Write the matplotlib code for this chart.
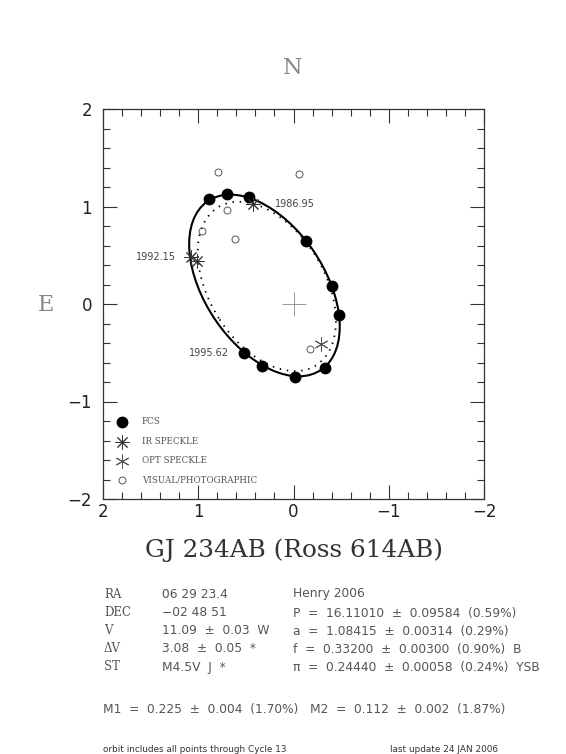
import numpy as np
import matplotlib
matplotlib.use("Agg")
import matplotlib.pyplot as plt
from matplotlib.patches import Ellipse
from matplotlib.ticker import MultipleLocator, FixedLocator

# ---------------- data ----------------
fcs_x = [0.884, 0.700, 0.464, -0.131, -0.401, -0.481, -0.331, -0.012, 0.331, 0.516]
fcs_y = [1.077, 1.131, 1.100, 0.649, 0.185, -0.110, -0.653, -0.745, -0.633, -0.506]
ir_x = [1.076, 1.016, 0.428]
ir_y = [0.485, 0.437, 1.026]
opt_x = [-0.285]
opt_y = [-0.410]
vis_x = [0.796, -0.055, 0.698, 0.611, 0.961, -0.173]
vis_y = [1.357, 1.336, 0.961, 0.663, 0.752, -0.465]

# orbit ellipses: centre x, centre y, semi-major, semi-minor, position angle (deg)
orbit_solid = [0.305, 0.190, 1.050, 0.625, 55.0]
orbit_dotted = [0.280, 0.180, 0.960, 0.600, 57.0]

epoch_labels = ["1986.95", "1992.15", "1995.62"]

tick_vals = [2, 1, 0, -1, -2]
tick_labels = ["2", "1", "0", "\u22121", "\u22122"]

legend_labels = ["FCS", "IR SPECKLE", "OPT SPECKLE", "VISUAL/PHOTOGRAPHIC"]

title = "GJ 234AB (Ross 614AB)"
info_col1 = ["RA", "DEC", "V", "\u0394V", "ST"]
info_col2 = ["06 29 23.4", "\u221202 48 51", "11.09  \u00b1  0.03  W", "3.08  \u00b1  0.05  *", "M4.5V  J  *"]
info_col3 = ["Henry 2006",
             "P  =  16.11010  \u00b1  0.09584  (0.59%)",
             "a  =  1.08415  \u00b1  0.00314  (0.29%)",
             "f  =  0.33200  \u00b1  0.00300  (0.90%)  B",
             "\u03c0  =  0.24440  \u00b1  0.00058  (0.24%)  YSB"]
mass_line = "M1  =  0.225  \u00b1  0.004  (1.70%)   M2  =  0.112  \u00b1  0.002  (1.87%)"
foot_left = "orbit includes all points through Cycle 13"
foot_right = "last update 24 JAN 2006"

# ---------------- figure ----------------
W, H = 566, 754
fig = plt.figure(figsize=(W / 100, H / 100), dpi=100)
def fx(px):
    return px / W
def fy(py):
    return 1 - py / H

ax = fig.add_axes([fx(103), fy(499), 381 / W, 390 / H])
ax.set_xlim(2, -2)
ax.set_ylim(-2, 2)

cx, cy, sa, sb, pa = orbit_solid
ax.add_patch(Ellipse((cx, cy), 2 * sa, 2 * sb, angle=pa, fill=False,
                     edgecolor="black", lw=1.5))
cx, cy, sa, sb, pa = orbit_dotted
ax.add_patch(Ellipse((cx, cy), 2 * sa, 2 * sb, angle=pa, fill=False,
                     edgecolor="black", lw=1.3, linestyle=(0, (0.8, 3.2))))

ax.plot(fcs_x, fcs_y, "o", ms=7.5, color="black", zorder=5)
ax.plot(ir_x, ir_y, ls="none", marker=(8, 2, 0), ms=10, mew=0.7, color="#333333", zorder=5)
ax.plot(opt_x, opt_y, ls="none", marker=(6, 2, 0), ms=10, mew=0.7, color="#555555", zorder=5)
ax.plot(vis_x, vis_y, "o", ms=5, mfc="none", mec="#555555", mew=0.7, zorder=5)
ax.plot([0], [0], "+", ms=17, mew=0.6, color="#888888")

ax.annotate(epoch_labels[0], (ir_x[2], ir_y[2]), xytext=(16, 0), textcoords="offset points",
            fontsize=7, color="#444444", ha="left", va="center")
ax.annotate(epoch_labels[1], (ir_x[0], ir_y[0]), xytext=(-11, 0), textcoords="offset points",
            fontsize=7, color="#444444", ha="right", va="center")
ax.annotate(epoch_labels[2], (fcs_x[9], fcs_y[9]), xytext=(-11, 0), textcoords="offset points",
            fontsize=7, color="#444444", ha="right", va="center")

# legend (manual)
leg_y = [0.198, 0.147, 0.0975, 0.049]
ax.plot(0.05, leg_y[0], "o", ms=7.5, color="black", transform=ax.transAxes)
ax.plot(0.05, leg_y[1], ls="none", marker=(8, 2, 0), ms=10, mew=0.7, color="#333333", transform=ax.transAxes)
ax.plot(0.05, leg_y[2], ls="none", marker=(6, 2, 0), ms=10, mew=0.7, color="#555555", transform=ax.transAxes)
ax.plot(0.05, leg_y[3], "o", ms=5, mfc="none", mec="#555555", mew=0.7, transform=ax.transAxes)
for lbl, yy in zip(legend_labels, leg_y):
    ax.text(0.1015, yy, lbl, transform=ax.transAxes, fontsize=6.3, family="DejaVu Serif",
            color="#555555", va="center", ha="left")

ax.xaxis.set_major_locator(FixedLocator(tick_vals))
ax.yaxis.set_major_locator(FixedLocator(tick_vals))
ax.set_xticklabels(tick_labels)
ax.set_yticklabels(tick_labels)
ax.xaxis.set_minor_locator(MultipleLocator(0.2))
ax.yaxis.set_minor_locator(MultipleLocator(0.2))
ax.tick_params(which="both", direction="in", top=True, right=True, colors="#333333",
               labelcolor="#222222", labelsize=12)
ax.tick_params(which="major", length=10, width=0.8)
ax.tick_params(which="minor", length=5, width=0.8)
ax.tick_params(axis="x", pad=3)
ax.tick_params(axis="y", pad=8)
for s in ax.spines.values():
    s.set_color("#333333")
    s.set_linewidth(0.9)

fig.text(fx(293), fy(68), "N", fontsize=16, family="DejaVu Serif", color="#888888", ha="center", va="center")
fig.text(fx(46), fy(305), "E", fontsize=16, family="DejaVu Serif", color="#888888", ha="center", va="center")
fig.text(fx(294), fy(550), title, fontsize=17.8, family="DejaVu Serif", color="#333333", ha="center", va="center")

rows_y = [594, 613, 631, 649, 667]
for c1, c2, c3, yy in zip(info_col1, info_col2, info_col3, rows_y):
    fig.text(fx(104), fy(yy), c1, fontsize=8.5, family="DejaVu Serif", color="#555555", va="center")
    fig.text(fx(162), fy(yy), c2, fontsize=8.8, color="#555555", va="center")
    fig.text(fx(293), fy(yy), c3, fontsize=8.8, color="#555555", va="center")
fig.text(fx(103), fy(709), mass_line, fontsize=8.8, color="#555555", va="center")
fig.text(fx(103), fy(750), foot_left, fontsize=6.4, color="#333333", va="center")
fig.text(fx(390), fy(750), foot_right, fontsize=6.4, color="#333333", va="center")

fig.savefig("out.png", dpi=100, facecolor="white")
